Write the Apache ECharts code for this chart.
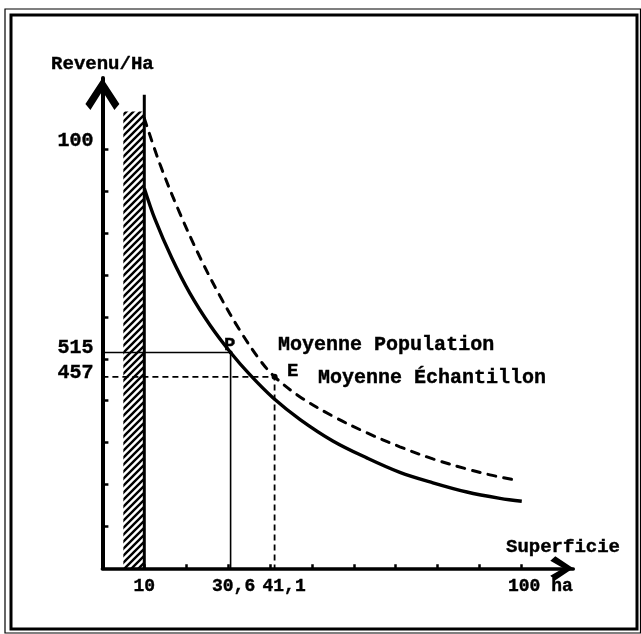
<!DOCTYPE html>
<html><head><meta charset="utf-8">
<script src="https://cdn.jsdelivr.net/npm/echarts@6/dist/echarts.min.js"></script>
<style>html,body{margin:0;padding:0;background:#fff}#c{width:641px;height:634px}</style>
</head><body><div id="c"></div>
<script>
// ---- data ----
const xTickValues = [10, 20, 30, 40, 50, 60, 70, 80, 90, 100];
const yTickValues = [100, 200, 300, 400, 500, 600, 700, 800, 900, 1000];
const xLabelValues = [10, 30.6, 41.1, 100];
const xLabelTexts = ['10', '30,6', '41,1', '100 ha'];
const yLabelValues = [1000, 515, 457];
const yLabelTexts = ['100', '515', '457'];
const popX = [10, 12.55, 16.54, 20.9, 25.7, 30.6, 35.2, 40.7, 47.2, 55.0, 63.2, 71.0, 78.9, 87.0, 94.9, 100.1];
const popY = [907, 833, 741, 656, 580, 515, 462, 407, 355, 304, 263, 229, 204, 182, 167, 160];
const echX = [10, 13.75, 18.5, 23.3, 28.1, 32.8, 37.6, 41.1, 47.2, 55.0, 63.2, 71.0, 78.9, 87.0, 92.5, 97.8];
const echY = [1074, 964, 847, 742, 649, 568, 497, 457, 409, 363, 323, 290, 261, 237, 223, 212];
const pointP = [30.6, 515];
const pointE = [41.1, 457];
const hatchX = [5, 10];
const hatchTop = 1090;
const barLineX = 10;
const barLineTop = 1130;
const curveNames = ['Moyenne Population', 'Moyenne Échantillon'];
const pointNames = ['P', 'E'];
const xName = 'Superficie';
const yName = 'Revenu/Ha';

// ---- style ----
const FONT = 'Liberation Mono';
function txt(size) {
  return {fontFamily: FONT, fontWeight: 'bold', fontSize: size, color: '#000',
    textBorderColor: '#000', textBorderWidth: 0.4, opacity: 1};
}

function hatchPattern() {
  const n = 7;
  const c = document.createElement('canvas');
  c.width = n; c.height = n;
  const g = c.getContext('2d');
  g.strokeStyle = '#000'; g.lineWidth = 2.4;
  g.beginPath();
  g.moveTo(-1, n + 1); g.lineTo(n + 1, -1);
  g.moveTo(-1, 1); g.lineTo(1, -1);
  g.moveTo(n - 1, n + 1); g.lineTo(n + 1, n - 1);
  g.stroke();
  return {image: c, repeat: 'repeat'};
}

const chevUp = 'path://M17,0 L34,26 L29,32 L17,13 L5,32 L0,26 Z';
const chevX = 'path://M12,0 L24,18 L19.5,23 L12,10 L4.5,23 L0,18 Z';

const xRich = {}; const xPad = [0, 6, 19, 38];
xLabelTexts.forEach((t, i) => { xRich['x' + i] = Object.assign(txt(18), {padding: [0, 0, 0, xPad[i]]}); });
const yRich = {}; const yPad = [16, 10, 8];
yLabelTexts.forEach((t, i) => { yRich['y' + i] = Object.assign(txt(20), {padding: [0, 0, yPad[i], 0]}); });

const chart = echarts.init(document.getElementById('c'), null, {renderer: 'canvas'});
chart.setOption({
  animation: false,
  backgroundColor: '#fff',
  graphic: [
    {type: 'rect', shape: {x: 5, y: 9, width: 635.5, height: 624}, style: {fill: null, stroke: '#000', lineWidth: 1.2}},
    {type: 'rect', shape: {x: 11, y: 15, width: 626, height: 614}, style: {fill: null, stroke: '#000', lineWidth: 3}}
  ],
  grid: {left: 102.4, right: 67.7, top: 78, bottom: 65.7},
  xAxis: {
    type: 'value', min: 0, max: 112.4,
    name: xName, nameLocation: 'end', nameGap: 46.7,
    nameTextStyle: Object.assign(txt(19), {align: 'right', verticalAlign: 'bottom', padding: [0, 0, 12, 0]}),
    splitLine: {show: false},
    axisLine: {onZero: false, lineStyle: {color: '#000', width: 3.5},
      symbol: ['none', chevX], symbolSize: [24, 23], symbolOffset: [0, -11.5]},
    axisTick: {show: true, inside: true, length: 4, customValues: xTickValues, lineStyle: {color: '#000', width: 2.5}},
    axisLabel: {
      customValues: xLabelValues, margin: 9,
      formatter: (v) => { const i = xLabelValues.indexOf(v); return '{x' + i + '|' + xLabelTexts[i] + '}'; },
      rich: xRich
    }
  },
  yAxis: {
    type: 'value', min: 0, max: 1170,
    name: yName, nameLocation: 'end', nameGap: 4,
    nameTextStyle: Object.assign(txt(19), {align: 'center'}),
    splitLine: {show: false},
    axisLine: {onZero: false, lineStyle: {color: '#000', width: 4},
      symbol: ['none', chevUp], symbolSize: [34, 32], symbolOffset: [0, -16]},
    axisTick: {show: true, inside: true, length: 6, customValues: yTickValues, lineStyle: {color: '#000', width: 2.5}},
    axisLabel: {
      customValues: yLabelValues, margin: 9,
      formatter: (v) => { const i = yLabelValues.indexOf(v); return '{y' + i + '|' + yLabelTexts[i] + '}'; },
      rich: yRich
    }
  },
  series: [
    {
      type: 'line', name: 'bar10', silent: true, symbol: 'none',
      data: [[barLineX, 0], [barLineX, barLineTop]],
      lineStyle: {color: '#000', width: 3}, z: 3,
      markArea: {silent: true, itemStyle: {color: hatchPattern(), opacity: 1},
        data: [[{coord: [hatchX[0], 0]}, {coord: [hatchX[1], hatchTop]}]]}
    },
    {
      type: 'line', name: 'refP', silent: true, symbol: 'none',
      data: [[0, pointP[1]], [pointP[0], pointP[1]], [pointP[0], 0]],
      lineStyle: {color: '#000', width: 1.6}, z: 4
    },
    {
      type: 'line', name: 'refE', silent: true, symbol: 'none',
      data: [[0, pointE[1]], [pointE[0], pointE[1]], [pointE[0], 0]],
      lineStyle: {color: '#000', width: 1.8, type: [6, 4]}, z: 4
    },
    {
      type: 'line', name: curveNames[0], silent: true, symbol: 'none', smooth: 0.35,
      data: popX.map((x, i) => [x, popY[i]]),
      lineStyle: {color: '#000', width: 3.4}, z: 5
    },
    {
      type: 'line', name: curveNames[1], silent: true, symbol: 'none', smooth: 0.35,
      data: echX.map((x, i) => [x, echY[i]]),
      lineStyle: {color: '#000', width: 3, type: [8, 8], cap: 'round'}, z: 5
    },
    {
      type: 'scatter', name: 'points', silent: true, symbol: 'circle',
      itemStyle: {color: '#000', opacity: 1}, z: 6,
      data: [
        {value: pointP, symbolSize: 4, label: Object.assign({show: true, position: 'inside', formatter: pointNames[0], offset: [-1, -7]}, txt(19))},
        {value: pointE, symbolSize: 6, label: Object.assign({show: true, position: 'inside', formatter: pointNames[1], offset: [18, -6]}, txt(19))}
      ]
    },
    {
      type: 'scatter', name: 'curveLabels', silent: true, symbolSize: 1,
      itemStyle: {color: 'rgba(0,0,0,0)', opacity: 1}, z: 6,
      data: [
        {value: pointP, label: Object.assign({show: true, position: 'right', distance: 0, formatter: curveNames[0], offset: [47, -8]}, txt(20))},
        {value: pointE, label: Object.assign({show: true, position: 'right', distance: 0, formatter: curveNames[1], offset: [43, 1]}, txt(20))}
      ]
    }
  ]
});
</script>
</body></html>
